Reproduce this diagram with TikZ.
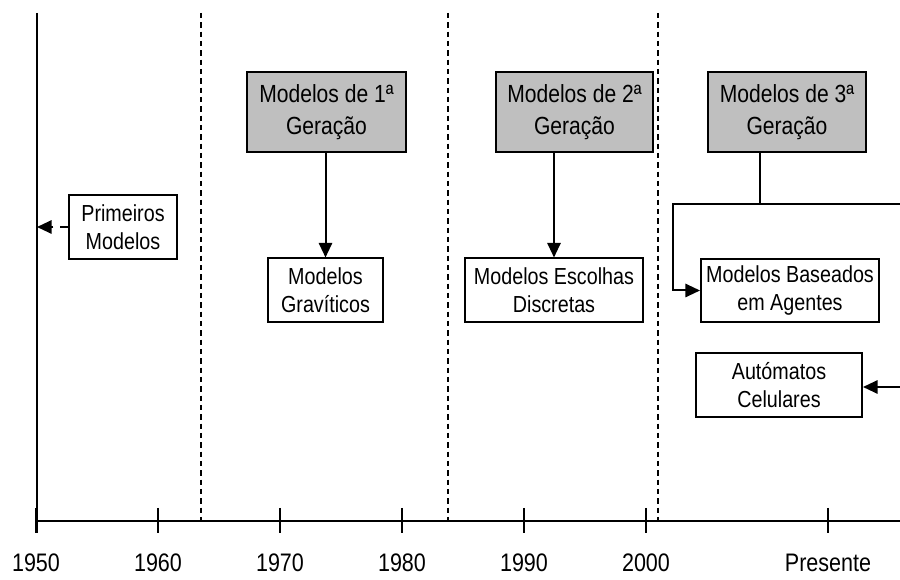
\documentclass[tikz,border=0pt]{standalone}
\usepackage{fontspec}
\setmainfont{Liberation Sans}[FakeStretch=0.85]
\usetikzlibrary{arrows.meta}
\begin{document}
\begin{tikzpicture}[x=0.75pt,y=-0.75pt,
  line width=1.5pt,
  arr/.style={-{Triangle[length=11pt,width=10pt]}},
  genbox/.style={draw,fill=black!25,inner sep=0pt,align=center,
    font=\fontsize{18.6}{23.5}\selectfont,minimum height=60pt},
  modbox/.style={draw,fill=white,inner sep=0pt,align=center,
    font=\fontsize{17.4}{21}\selectfont,minimum height=48pt},
  era/.style={line width=1.1pt,dash pattern=on 4pt off 3pt},
  yearlbl/.style={font=\fontsize{19}{20}\selectfont,inner sep=0pt},
  tick/.style={line width=1.5pt}]
\useasboundingbox (0,0) rectangle (900,580);
% axes
\coordinate (top) at (37,13);
\coordinate (ax0) at (37,521);
\coordinate (ax1) at (900,521);
\draw (top) -- (37,533);
\draw (ax0) -- (ax1);
\foreach \x/\lab/\n in {36/1950/a,158/1960/b,280/1970/c,402/1980/d,524/1990/e,646/2000/f,828/Presente/g}{
  \draw[tick] (\x,508) -- (\x,533);
  \node[yearlbl] (y\n) at (\x,563) {\lab};
}
% era separators
\foreach \x in {201,448,658}{
  \draw[era] (\x,13) -- (\x,521);
}
% boxes
\node[genbox,minimum width=119pt] (g1) at (326.5,112) {Modelos de 1ª\\Geração};
\node[genbox,minimum width=118pt] (g2) at (574.5,112) {Modelos de 2ª\\Geração};
\node[genbox,minimum width=118.5pt] (g3) at (787,112) {Modelos de 3ª\\Geração};
\node[modbox,minimum width=81pt] (prim) at (123,227) {Primeiros\\Modelos};
\node[modbox,minimum width=86pt] (grav) at (325.5,290.5) {Modelos\\Gravíticos};
\node[modbox,minimum width=133.5pt] (disc) at (554,290.5) {Modelos Escolhas\\Discretas};
\node[modbox,minimum width=133.5pt,minimum height=47pt] (agent) at (790,290.5) {Modelos Baseados\\em Agentes};
\node[modbox,minimum width=124.5pt] (auto) at (779,385) {Autómatos\\Celulares};
% connectors
\draw[arr,dash pattern=on 6pt off 5pt] (prim.west) -- (prim.west -| top);
\draw[arr] (g1.south -| grav.north) -- (grav.north);
\draw[arr] (g2.south -| disc.north) -- (disc.north);
\coordinate (j) at (760,204);
\coordinate (l) at (673,204);
\coordinate (r) at (900,204);
\draw (g3.south -| j) -- (j);
\draw[arr] (r) -- (l) |- (agent.west);
\coordinate (ra) at (900,387);
\draw[arr] (ra) -- (auto.east |- ra);
\end{tikzpicture}
\end{document}
